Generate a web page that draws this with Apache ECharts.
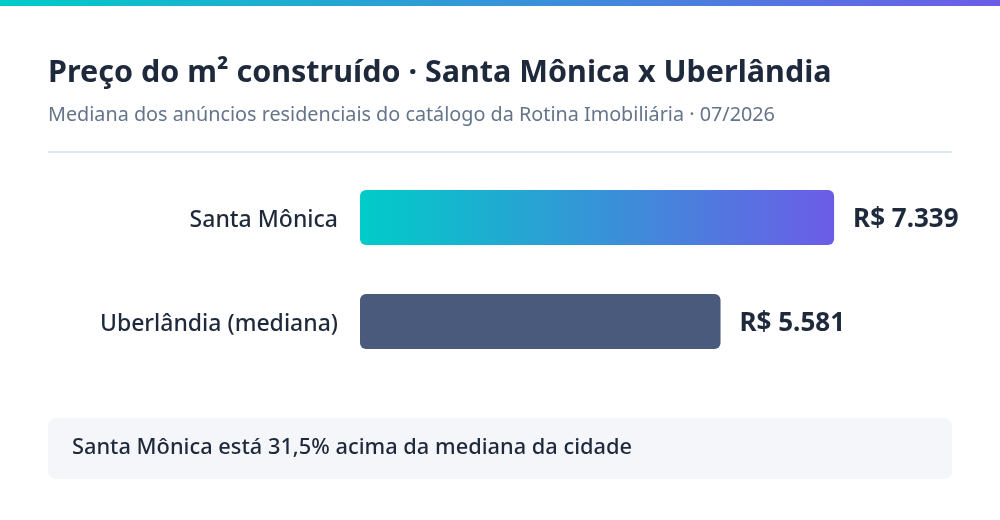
<!DOCTYPE html>
<html>
<head>
<meta charset="utf-8">
<script src="https://cdn.jsdelivr.net/npm/echarts@6/dist/echarts.min.js"></script>
<style>
html,body{margin:0;padding:0;background:#ffffff;}
#chart{width:1000px;height:520px;}
</style>
</head>
<body>
<div id="chart"></div>
<script>
const categories = ['Santa Mônica', 'Uberlândia (mediana)'];
const values = [7339, 5581];
const titleText = 'Preço do m² construído · Santa Mônica x Uberlândia';
const subtitleText = 'Mediana dos anúncios residenciais do catálogo da Rotina Imobiliária · 07/2026';

const FONT = '"Noto Sans", "Open Sans", sans-serif';
const TEAL = '#00CCC8';
const PURPLE = '#6C5CE7';
const SLATE = '#4A5A7C';
const INK = '#1E293B';

function brl(v) {
  return 'R$ ' + v.toLocaleString('pt-BR');
}
const pct = ((values[0] / values[1] - 1) * 100).toFixed(1).replace('.', ',');
const calloutText = categories[0] + ' está ' + pct + '% acima da mediana da cidade';

const chart = echarts.init(document.getElementById('chart'), null, {renderer: 'canvas'});
chart.setOption({
  backgroundColor: '#ffffff',
  animation: false,
  title: [
    {text: titleText, left: 48, top: 58, padding: 0,
     textStyle: {fontFamily: FONT, fontSize: 30.5, fontWeight: 'bold', color: INK}},
    {text: subtitleText, left: 48, top: 105, padding: 0,
     textStyle: {fontFamily: FONT, fontSize: 19.8, fontWeight: 'normal', color: '#64748B'}}
  ],
  grid: {left: 360, width: 581.4, top: 165.5, height: 208, containLabel: false},
  xAxis: {
    type: 'value', min: 0, max: 9000,
    show: false
  },
  yAxis: {
    type: 'category', data: categories, inverse: true,
    axisLine: {show: false}, axisTick: {show: false}, splitLine: {show: false},
    axisLabel: {
      margin: 22,
      formatter: v => '{l|' + v + '}',
      rich: {l: {padding: [6, 0, 0, 0], fontFamily: FONT, fontSize: 23, fontWeight: 500, color: INK}}
    }
  },
  series: [{
    type: 'bar',
    barWidth: 55,
    data: values.map((v, i) => ({
      value: v,
      itemStyle: {
        color: i === 0
          ? new echarts.graphic.LinearGradient(0, 0, 1, 0, [{offset: 0, color: TEAL}, {offset: 1, color: PURPLE}])
          : SLATE,
        borderRadius: 6
      }
    })),
    label: {
      show: true, position: 'right', distance: 19, offset: [0, 2],
      formatter: p => brl(p.value),
      fontFamily: FONT, fontSize: 26, fontWeight: 'bold', color: INK
    }
  }],
  graphic: [
    {type: 'rect', left: 0, top: 0, shape: {width: 1000, height: 6},
     style: {fill: new echarts.graphic.LinearGradient(0, 0, 1, 0, [{offset: 0, color: TEAL}, {offset: 1, color: PURPLE}])}},
    {type: 'rect', left: 48, top: 151, shape: {width: 904, height: 2}, style: {fill: '#E2E8F0'}},
    {type: 'rect', left: 48, top: 418, shape: {width: 904, height: 61, r: 8}, style: {fill: '#F4F6FA'}},
    {type: 'text', left: 72, top: 437,
     style: {text: calloutText, fontFamily: FONT, fontSize: 21.8, fontWeight: 500, fill: INK}}
  ]
});
</script>
</body>
</html>
